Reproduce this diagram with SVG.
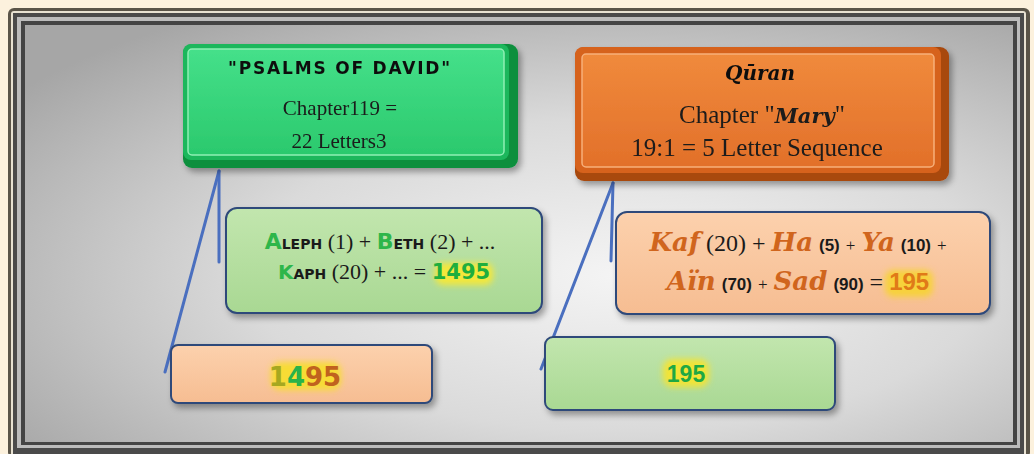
<svg xmlns="http://www.w3.org/2000/svg" width="1034" height="454" viewBox="0 0 1034 454">
<defs>
<style>
.serif{font-family:"Liberation Serif","Times New Roman",serif;fill:#1a1a1a}
.heb{font-family:"DejaVu Sans","Liberation Sans",sans-serif;font-weight:bold}
.scr{font-family:"DejaVu Serif","Liberation Serif",serif;font-style:italic;font-weight:bold}
.conn{stroke:#4a6fbf;stroke-width:3;fill:none;stroke-linecap:round}
.panel{stroke:#2f4a7a;stroke-width:2}
.num{font-family:"Liberation Sans",Arial,sans-serif;font-weight:bold}
</style>
<radialGradient id="bg" cx="0.6" cy="0.6" r="0.75">
<stop offset="0" stop-color="#f4f4f4"/>
<stop offset="0.5" stop-color="#dadada"/>
<stop offset="1" stop-color="#a6a6a6"/>
</radialGradient>
<linearGradient id="gface" x1="0" y1="0" x2="0" y2="1">
<stop offset="0" stop-color="#45e08a"/>
<stop offset="1" stop-color="#2bc96d"/>
</linearGradient>
<linearGradient id="oface" x1="0" y1="0" x2="0" y2="1">
<stop offset="0" stop-color="#f08a3c"/>
<stop offset="1" stop-color="#e2702a"/>
</linearGradient>
<linearGradient id="lg" x1="0" y1="0" x2="0" y2="1">
<stop offset="0" stop-color="#c2e6ae"/>
<stop offset="1" stop-color="#a9d893"/>
</linearGradient>
<linearGradient id="lo" x1="0" y1="0" x2="0" y2="1">
<stop offset="0" stop-color="#fcd1ad"/>
<stop offset="1" stop-color="#f6bd92"/>
</linearGradient>
<filter id="sh" x="-10%" y="-10%" width="130%" height="140%">
<feDropShadow dx="3" dy="4" stdDeviation="3" flood-color="#000" flood-opacity="0.35"/>
</filter>
<filter id="glow" x="-30%" y="-50%" width="160%" height="200%">
<feGaussianBlur stdDeviation="3"/>
</filter>
</defs>

<rect x="0" y="0" width="1034" height="454" fill="#fcf1dd"/>
<g id="frame">
<rect x="8" y="8" width="1022" height="450" rx="6" fill="#5a5448"/>
<rect x="11" y="11" width="1015" height="446" rx="3" fill="#e8e2d2"/>
<rect x="13" y="13" width="1011" height="444" fill="#4a4a4a"/>
<rect x="17" y="17" width="1003" height="431" fill="#bcbcbc"/>
<rect x="21" y="21" width="996" height="424" fill="#444"/>
<rect x="25" y="25" width="988" height="417" fill="url(#bg)"/>
</g>

<g id="connectors">
<line class="conn" x1="219" y1="171" x2="219" y2="262"/>
<line class="conn" x1="219" y1="171" x2="165" y2="372"/>
<line class="conn" x1="613" y1="183" x2="611" y2="261"/>
<line class="conn" x1="613" y1="183" x2="541" y2="369"/>
</g>

<g id="psalms" filter="url(#sh)">
<rect x="183" y="44" width="335" height="124" rx="9" fill="#0c8f3d"/>
<rect x="183" y="44" width="326" height="116" rx="8" fill="#1fb75c"/>
<rect x="188" y="49" width="316" height="106" rx="4" fill="url(#gface)" stroke="#8ef0b4" stroke-width="1.5"/>
<text x="340" y="74" text-anchor="middle" class="heb" font-size="17" letter-spacing="1.8" fill="#111">"PSALMS OF DAVID"</text>
<text x="340" y="115" text-anchor="middle" class="serif" font-size="21">Chapter119 =</text>
<text x="339" y="148" text-anchor="middle" class="serif" font-size="21">22 Letters3</text>
</g>

<g id="quran" filter="url(#sh)">
<rect x="575" y="47" width="374" height="134" rx="9" fill="#a8480f"/>
<rect x="575" y="47" width="366" height="126" rx="8" fill="#d6621d"/>
<rect x="582" y="54" width="352" height="113" rx="4" fill="url(#oface)" stroke="#f7b07a" stroke-width="1.5"/>
<text x="760" y="80" text-anchor="middle" class="scr" font-size="20" fill="#111">Qūran</text>
<text x="762" y="123" text-anchor="middle" class="serif" font-size="25">Chapter "<tspan class="scr" font-size="21">Mary</tspan>"</text>
<text x="757" y="156" text-anchor="middle" class="serif" font-size="25">19:1 = 5 Letter Sequence</text>
</g>

<g id="hebrew-sum">
<rect class="panel" x="226" y="208" width="316" height="105" rx="11" fill="url(#lg)" filter="url(#sh)"/>
<text x="380" y="249" text-anchor="middle" class="serif" font-size="22"><tspan class="heb" fill="#2eb64a" font-size="22">A</tspan><tspan class="heb" font-size="14">LEPH</tspan> (1) + <tspan class="heb" fill="#2eb64a" font-size="22">B</tspan><tspan class="heb" font-size="14">ETH</tspan> (2) +  ...</text>
<rect x="435" y="263" width="58" height="22" rx="8" fill="#f4e83a" filter="url(#glow)"/>
<text x="384" y="279" text-anchor="middle" class="serif" font-size="22"><tspan class="heb" fill="#2eb64a" font-size="20">K</tspan><tspan class="heb" font-size="14">APH</tspan> (20) + ...  = <tspan class="heb" fill="#1fae3e" font-size="21">1495</tspan></text>
</g>

<g id="arabic-sum">
<rect class="panel" x="616" y="212" width="374" height="102" rx="11" fill="url(#lo)" filter="url(#sh)"/>
<text x="798" y="251" text-anchor="middle" class="serif" font-size="24"><tspan class="scr" fill="#d0651d" font-size="26">Kaf</tspan> (20) + <tspan class="scr" fill="#d0651d" font-size="26">Ha</tspan> <tspan class="num" font-size="17">(5)</tspan> <tspan font-size="17">+</tspan> <tspan class="scr" fill="#d0651d" font-size="26">Ya</tspan> <tspan class="num" font-size="17">(10)</tspan> <tspan font-size="17">+</tspan></text>
<rect x="885" y="270" width="48" height="27" rx="8" fill="#f7d23a" filter="url(#glow)"/>
<text x="798" y="290" text-anchor="middle" class="serif" font-size="24"><tspan class="scr" fill="#d0651d" font-size="26">Aïn</tspan> <tspan class="num" font-size="17">(70)</tspan> <tspan font-size="17">+</tspan> <tspan class="scr" fill="#d0651d" font-size="26">Sad</tspan> <tspan class="num" font-size="17">(90)</tspan> = <tspan class="num" fill="#e07a18" font-size="24">195</tspan></text>
</g>

<g id="result-1495">
<rect class="panel" x="171" y="345" width="261" height="58" rx="7" fill="url(#lo)" filter="url(#sh)"/>
<rect x="271" y="362" width="70" height="28" rx="9" fill="#f7dc34" filter="url(#glow)"/>
<text x="305" y="386" text-anchor="middle" class="heb" font-size="26"><tspan fill="#a6a820">1</tspan><tspan fill="#2ab34a">4</tspan><tspan fill="#c0621e">95</tspan></text>
</g>

<g id="result-195">
<rect class="panel" x="545" y="337" width="290" height="73" rx="8" fill="url(#lg)" filter="url(#sh)"/>
<rect x="663" y="359" width="46" height="28" rx="9" fill="#f3e436" filter="url(#glow)"/>
<text x="686" y="382" text-anchor="middle" class="num" font-size="23" fill="#1fa844">195</text>
</g>
</svg>
